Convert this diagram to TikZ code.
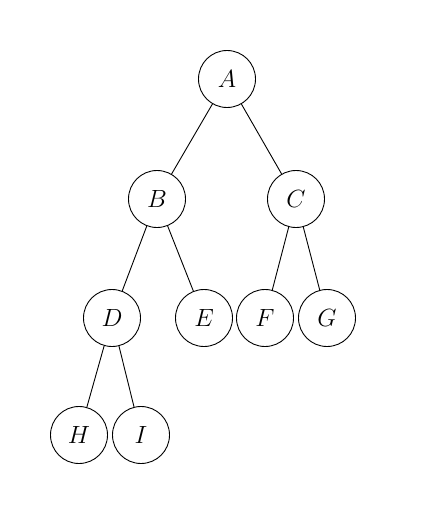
\documentclass[tikz,border=0pt]{standalone}
\begin{document}
\begin{tikzpicture}[x=1pt,y=-1pt,
  tnode/.style={circle,draw,line width=0.9pt,minimum size=57pt,inner sep=0pt,font=\fontsize{29}{34}\selectfont},
  tedge/.style={line width=0.9pt}]
\useasboundingbox (0,0) rectangle (423,532);
\node[tnode] (A) at (227,79) {$A$};
\node[tnode] (B) at (157,199) {$B$};
\node[tnode] (C) at (296,199) {$C$};
\node[tnode] (D) at (112,318) {$D$};
\node[tnode] (E) at (204,318) {$E$};
\node[tnode] (F) at (265,318) {$F$};
\node[tnode] (G) at (327,318) {$G$};
\node[tnode] (H) at (79,435) {$H$};
\node[tnode] (I) at (141,435) {$I$};
\draw[tedge] (A) -- (B);
\draw[tedge] (A) -- (C);
\draw[tedge] (B) -- (D);
\draw[tedge] (B) -- (E);
\draw[tedge] (C) -- (F);
\draw[tedge] (C) -- (G);
\draw[tedge] (D) -- (H);
\draw[tedge] (D) -- (I);
\end{tikzpicture}
\end{document}
